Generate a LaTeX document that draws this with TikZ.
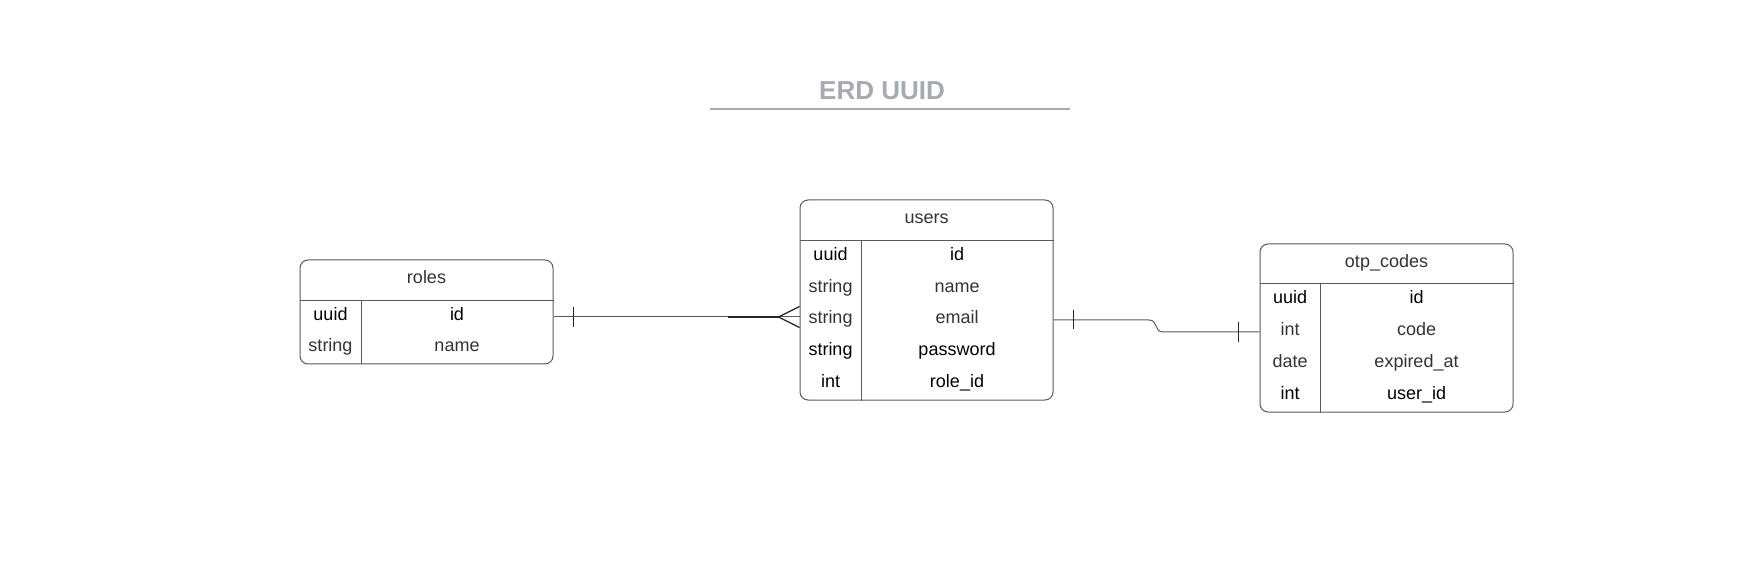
\documentclass[tikz,border=0pt]{standalone}
\usepackage{fontspec}
\setmainfont{Liberation Sans}
\usetikzlibrary{calc}
\definecolor{titlegray}{HTML}{A6AAB2}
\definecolor{linegray}{HTML}{5A5A5A}
\definecolor{softtext}{HTML}{333333}
\begin{document}
\begin{tikzpicture}[
  tbl/.style={draw=linegray,line width=0.5pt,rounded corners=4pt,inner sep=0pt},
  rule/.style={draw=linegray,line width=0.5pt},
  conn/.style={draw=linegray,line width=0.5pt},
  tick/.style={draw=black!85,line width=0.6pt},
  cell/.style={inner sep=0pt,text height=6.4pt,text depth=0pt,font=\fontsize{9pt}{11pt}\selectfont},
  dark/.style={cell,text=black},
  soft/.style={cell,text=softtext},
  title/.style={anchor=base,text=titlegray,font=\fontsize{13pt}{15pt}\selectfont\bfseries}
]
\useasboundingbox (0,0) rectangle (880pt,-283pt);

% title
\node[title] (title) at (441pt,-50pt) {ERD UUID};
\coordinate (ul-a) at (355pt,-54.5pt);
\coordinate (ul-b) at (535pt,-54.5pt);
\draw[titlegray,line width=1pt] (ul-a) -- (ul-b);

% roles
\node[tbl,minimum width=126.5pt,minimum height=52pt] (roles) at (213.25pt,-156pt) {};
\draw[rule] (roles.west |- 0,-150.5pt) -- (roles.east |- 0,-150.5pt);
\draw[rule] (180.5pt,-150.5pt) -- (180.5pt,0 |- roles.south);
\node[soft] (roles-h) at (213.25pt,-138.75pt) {roles};
\foreach \t/\n/\s [count=\i] in {uuid/id/dark,string/name/soft}
{
  \node[\s] (roles-t\i) at (165.25pt,{-158.4pt-(\i-1)*15.75pt+1.5pt}) {\t};
  \node[\s] (roles-n\i) at (228.5pt,{-158.4pt-(\i-1)*15.75pt+1.5pt}) {\n};
}

% users
\node[tbl,minimum width=126.5pt,minimum height=100pt] (users) at (463.25pt,-150pt) {};
\draw[rule] (users.west |- 0,-120.5pt) -- (users.east |- 0,-120.5pt);
\draw[rule] (430.5pt,-120.5pt) -- (430.5pt,0 |- users.south);
\node[soft] (users-h) at (463.25pt,-108.75pt) {users};
\foreach \t/\n/\s [count=\i] in {uuid/id/dark,string/name/soft,string/email/soft,string/password/dark,int/role\_id/dark}
{
  \node[\s] (users-t\i) at (415.25pt,{-128.5pt-(\i-1)*15.9pt+1.5pt}) {\t};
  \node[\s] (users-n\i) at (478.5pt,{-128.5pt-(\i-1)*15.9pt+1.5pt}) {\n};
}

% otp_codes
\node[tbl,minimum width=126.5pt,minimum height=84pt] (otp) at (693.25pt,-164pt) {};
\draw[rule] (otp.west |- 0,-142pt) -- (otp.east |- 0,-142pt);
\draw[rule] (660pt,-142pt) -- (660pt,0 |- otp.south);
\node[soft] (otp-h) at (693.25pt,-130.5pt) {otp\_codes};
\foreach \t/\n/\s [count=\i] in {uuid/id/dark,int/code/soft,date/expired\_at/soft,int/user\_id/dark}
{
  \node[\s] (otp-t\i) at (645pt,{-150pt-(\i-1)*16pt+1.5pt}) {\t};
  \node[\s] (otp-n\i) at (708.25pt,{-150pt-(\i-1)*16pt+1.5pt}) {\n};
}

% roles -> users
\coordinate (ru-a) at (roles.east |- 0,-158.5pt);
\coordinate (ru-b) at (users.west |- 0,-158.5pt);
\draw[conn] (ru-a) -- (ru-b);
\draw[tick] ($(ru-a)+(10pt,5pt)$) -- ($(ru-a)+(10pt,-5pt)$);
\draw[tick] ($(ru-b)+(-10.5pt,0)$) -- ($(ru-b)+(0,5.25pt)$);
\draw[tick] ($(ru-b)+(-10.5pt,0)$) -- ($(ru-b)+(0,-5.25pt)$);
\draw[tick] ($(ru-b)+(-36pt,0)$) -- ($(ru-b)+(-10.5pt,0)$);

% users -> otp_codes
\coordinate (uo-a) at (users.east |- 0,-160pt);
\coordinate (uo-b) at (otp.west |- 0,-166pt);
\draw[conn] (uo-a) -- (574.5pt,-160pt) .. controls (579pt,-160pt) and (577pt,-166pt) .. (581.5pt,-166pt) -- (uo-b);
\draw[tick] ($(uo-a)+(10pt,4.75pt)$) -- ($(uo-a)+(10pt,-4.75pt)$);
\draw[tick] ($(uo-b)+(-10.5pt,5pt)$) -- ($(uo-b)+(-10.5pt,-5pt)$);
\end{tikzpicture}
\end{document}
